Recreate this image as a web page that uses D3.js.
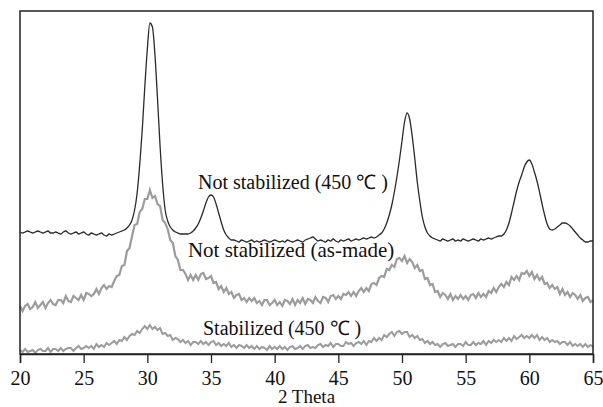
<!DOCTYPE html>
<html>
<head>
<meta charset="utf-8">
<script src="https://cdn.jsdelivr.net/npm/d3@7/dist/d3.min.js"></script>
<style>
  body { margin: 0; background: #fff; }
  text { font-family: "Liberation Serif", "Times New Roman", serif; }
</style>
</head>
<body>
<svg id="chart"></svg>
<script>
// XRD scans, 2 theta from 20 to 65 deg, 0.2 deg step, intensity in a.u.
const thetaStart = 20;
const thetaStep = 0.2;
const xTicks = [20, 25, 30, 35, 40, 45, 50, 55, 60, 65];

// Not stabilized (450 C)
const notStab450 = [
  122,121,122,123,122,121,122,123,122,121,
  122,123,121,121,122,121,120,122,123,121,
  120,121,122,120,121,122,120,119,121,120,
  119,120,121,119,118,120,119,120,121,122,
  123,124,126,129,134,144,161,189,224,267,
  305,331,327,299,255,208,170,144,133,127,
  124,122,121,120,120,120,120,121,123,126,
  130,136,143,151,157,159,157,150,141,132,
  124,119,116,114,114,113,112,114,113,112,
  113,114,112,113,112,113,114,113,112,113,
  114,113,112,113,112,114,113,112,113,114,
  113,112,114,115,116,117,115,113,114,113,
  112,114,113,115,113,112,114,113,114,115,
  113,114,115,114,115,116,115,116,117,116,
  117,119,121,125,131,139,149,162,177,194,
  213,232,241,235,218,196,172,153,137,127,
  121,118,116,115,114,113,115,114,113,114,
  115,113,114,113,115,114,113,114,115,114,
  113,115,114,115,116,115,116,117,118,118,
  120,124,131,141,152,163,172,179,187,192,
  194,190,182,173,162,150,139,130,125,124,
  125,127,129,131,131,130,128,125,122,119,
  116,114,112,112,113,113
];

// Not stabilized (as-made)
const notStabAsMade = [
  48,43,48,50,45,47,52,46,49,52,
  46,51,54,50,49,54,54,51,58,53,
  52,58,56,54,59,54,61,60,58,60,
  65,60,66,69,65,68,67,73,78,79,
  88,89,103,106,118,129,130,142,145,155,
  155,164,156,158,150,148,134,131,125,114,
  111,98,94,84,84,80,74,79,74,79,
  74,80,81,75,76,78,71,72,65,68,
  62,66,60,62,56,59,60,54,56,52,
  56,53,56,51,53,49,54,54,49,51,
  54,49,52,48,54,53,50,55,49,54,
  51,56,50,55,54,51,57,53,51,57,
  56,52,58,59,55,58,55,60,59,62,
  58,62,58,63,66,62,66,63,70,71,
  69,76,78,77,85,84,89,87,95,96,
  93,98,91,95,92,86,89,83,84,75,
  76,69,70,62,63,57,61,59,55,60,
  54,58,55,59,55,58,54,59,60,56,
  61,57,60,57,63,61,66,62,67,70,
  67,72,69,77,74,78,74,81,80,83,
  78,82,75,79,74,77,70,71,66,69,
  65,67,60,65,59,62,57,61,59,55,
  59,53,56,57,52,54
];

// Stabilized (450 C)
const stab450 = [
  4,2,5,2,3,4,1,4,5,3,
  3,6,2,5,5,3,6,3,5,6,
  6,3,6,8,5,6,8,6,8,5,
  10,7,9,7,11,9,11,13,10,14,
  13,17,14,18,20,19,23,21,25,28,
  25,29,25,27,24,26,20,21,18,19,
  14,16,15,12,14,11,13,9,12,12,
  10,13,10,12,9,12,13,9,11,8,
  10,8,11,7,9,6,9,8,6,9,
  6,8,5,8,5,7,6,4,8,5,
  7,5,8,5,7,4,7,8,5,6,
  8,5,8,9,6,7,6,9,10,7,
  9,8,11,7,10,10,8,8,12,10,
  11,8,11,12,10,13,9,13,12,16,
  13,16,14,19,17,20,22,18,22,23,
  20,22,22,17,19,16,18,14,15,11,
  13,10,12,9,10,7,10,11,8,9,
  10,7,10,10,8,12,9,9,12,9,
  11,10,13,9,13,11,14,12,14,12,
  16,13,16,13,18,15,17,19,16,18,
  16,19,16,19,14,17,14,16,12,14,
  12,13,10,12,12,9,12,8,10,8,
  10,7,10,7,9,7
];

const width = 603;
const height = 407;
const margin = { top: 11, right: 10, bottom: 53, left: 20 };

const svg = d3.select('#chart')
  .attr('width', width)
  .attr('height', height);

const xScale = d3.scaleLinear()
  .domain([20, 65])
  .range([margin.left, width - margin.right]);

const yScale = d3.scaleLinear()
  .domain([0, 343])
  .range([height - margin.bottom, margin.top]);

const toPoints = arr => arr.map((v, i) => [thetaStart + i * thetaStep, v]);

const line = d3.line()
  .x(d => xScale(d[0]))
  .y(d => yScale(d[1]));

// gray scans
svg.append('path')
  .datum(toPoints(stab450))
  .attr('fill', 'none')
  .attr('stroke', '#9c9c9c')
  .attr('stroke-width', 2)
  .attr('d', line);

svg.append('path')
  .datum(toPoints(notStabAsMade))
  .attr('fill', 'none')
  .attr('stroke', '#9c9c9c')
  .attr('stroke-width', 2.2)
  .attr('d', line);

// black scan
svg.append('path')
  .datum(toPoints(notStab450))
  .attr('fill', 'none')
  .attr('stroke', '#2a2a2a')
  .attr('stroke-width', 1.3)
  .attr('d', line.curve(d3.curveMonotoneX));

// frame
svg.append('rect')
  .attr('x', xScale(20))
  .attr('y', yScale(343))
  .attr('width', xScale(65) - xScale(20))
  .attr('height', yScale(0) - yScale(343))
  .attr('fill', 'none')
  .attr('stroke', '#222')
  .attr('stroke-width', 1.5);

// x axis
const xAxis = svg.append('g')
  .attr('transform', `translate(0, ${yScale(0)})`)
  .call(d3.axisBottom(xScale).tickValues(xTicks).tickSize(9).tickPadding(8).tickFormat(d3.format('d')));
xAxis.select('.domain').attr('stroke', '#222').attr('stroke-width', 1.5);
xAxis.selectAll('.tick line').attr('stroke', '#222').attr('stroke-width', 1.3);
xAxis.selectAll('.tick text')
  .attr('fill', '#111')
  .style('font-family', '"Liberation Serif", serif')
  .style('font-size', '20px');

svg.append('text')
  .attr('x', xScale(42.5))
  .attr('y', 403)
  .attr('text-anchor', 'middle')
  .attr('fill', '#111')
  .style('font-size', '19px')
  .text('2 Theta');

// series labels
const labelStyle = sel => sel.attr('fill', '#111').style('font-size', '20px');

svg.append('text')
  .attr('x', xScale(33.98))
  .attr('y', yScale(165))
  .call(labelStyle)
  .text('Not stabilized (450 ℃ )');

svg.append('text')
  .attr('x', xScale(33.19))
  .attr('y', yScale(97))
  .call(labelStyle)
  .style('font-size', '21px')
  .text('Not stabilized (as-made)');

svg.append('text')
  .attr('x', xScale(34.37))
  .attr('y', yScale(19))
  .call(labelStyle)
  .text('Stabilized (450 ℃ )');
</script>
</body>
</html>
